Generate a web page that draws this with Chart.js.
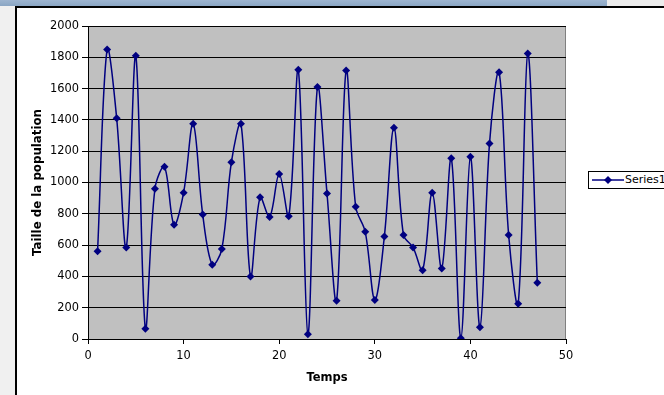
<!DOCTYPE html>
<html>
<head>
<meta charset="utf-8">
<script src="https://cdn.jsdelivr.net/npm/chart.js@4"></script>
<style>
  body { margin: 0; width: 664px; height: 395px; overflow: hidden; background: #f0f0f0; position: relative; font-family: "DejaVu Sans", Verdana, sans-serif; }
  #band { position: absolute; left: 0; top: 0; width: 607px; height: 6px; background: linear-gradient(#9db4cf, #8aa6c4); }
  #band2 { position: absolute; left: 607px; top: 0; width: 57px; height: 6px; background: #ececec; }
  #box { position: absolute; left: 15px; top: 6px; width: 649px; height: 389px; background: #fff; border-left: 2px solid #000; border-top: 2px solid #000; box-sizing: border-box; }
  #wrap { position: absolute; left: 17px; top: 8px; width: 647px; height: 387px; }
  #legend { position: absolute; left: 588px; top: 171px; width: 90px; height: 16px; border: 1px solid #000; background: #fff; font-size: 11px; line-height: 16px; white-space: nowrap; }
  #legend svg { position: absolute; left: 3px; top: 2px; }
  #legend span { position: absolute; left: 36px; top: 0; }
</style>
</head>
<body>
<div id="band"></div>
<div id="band2"></div>
<div id="box"></div>
<div id="wrap"><canvas id="chart" width="647" height="387"></canvas></div>
<div id="legend">
  <svg width="32" height="12"><line x1="0" y1="6" x2="32" y2="6" stroke="#000080" stroke-width="1.5"/><polygon points="16,2 20,6 16,10 12,6" fill="#000080"/></svg>
  <span>Series1</span>
</div>
<script>
// Temps (x) and taille de la population (y)
const temps = [1,2,3,4,5,6,7,8,9,10,11,12,13,14,15,16,17,18,19,20,21,22,23,24,25,26,27,28,29,30,31,32,33,34,35,36,37,38,39,40,41,42,43,44,45,46,47];
const taille = [560,1850,1410,585,1810,65,960,1100,730,935,1375,795,475,575,1130,1375,400,905,780,1055,785,1720,30,1610,930,245,1715,845,685,250,655,1350,665,585,440,935,450,1155,5,1165,75,1250,1705,665,225,1825,360];
const xTicks = [0,10,20,30,40,50];
const yTicks = [0,200,400,600,800,1000,1200,1400,1600,1800,2000];

const points = temps.map((t, i) => ({ x: t, y: taille[i] }));

const plotBg = {
  id: 'plotBg',
  beforeDraw(chart) {
    const a = chart.chartArea, c = chart.ctx;
    c.save();
    c.fillStyle = '#c0c0c0';
    c.fillRect(a.left, a.top, a.right - a.left, a.bottom - a.top);
    c.strokeStyle = '#808080';
    c.lineWidth = 1;
    c.beginPath();
    c.moveTo(a.left, a.top + 0.5);
    c.lineTo(a.right - 0.5, a.top + 0.5);
    c.lineTo(a.right - 0.5, a.bottom);
    c.stroke();
    c.restore();
  }
};

new Chart(document.getElementById('chart'), {
  type: 'line',
  data: {
    datasets: [{
      label: 'Series1',
      data: points,
      borderColor: '#000080',
      backgroundColor: '#000080',
      borderWidth: 1.5,
      tension: 0.35,
      pointStyle: 'rectRot',
      pointRadius: 4,
      pointBorderWidth: 0
    }]
  },
  options: {
    responsive: false,
    animation: false,
    layout: { padding: { top: 18, right: 98, left: 0, bottom: 0 } },
    plugins: { legend: { display: false }, tooltip: { enabled: false } },
    scales: {
      x: {
        type: 'linear',
        min: 0, max: 50,
        afterBuildTicks: s => { s.ticks = xTicks.map(v => ({ value: v })); },
        afterFit: s => { s.height = 56; },
        ticks: { color: '#000', font: { family: 'DejaVu Sans', size: 11.4 }, padding: 5, maxRotation: 0, callback: v => String(v) },
        grid: { drawOnChartArea: false, color: '#000', tickLength: 5 },
        border: { color: '#000', width: 1 },
        title: { display: true, text: 'Temps', color: '#000', font: { family: 'DejaVu Sans', size: 11.5, weight: 'bold' }, padding: { top: 0, bottom: 10 } }
      },
      y: {
        min: 0, max: 2000,
        afterBuildTicks: s => { s.ticks = yTicks.map(v => ({ value: v })); },
        afterFit: s => { s.width = 71; },
        ticks: { color: '#000', font: { family: 'DejaVu Sans', size: 11.4 }, padding: 3, callback: v => String(v) },
        grid: { color: '#000', tickLength: 6 },
        border: { color: '#000', width: 1 },
        title: { display: true, text: 'Taille de la population', color: '#000', font: { family: 'DejaVu Sans', size: 11.8, weight: 'bold' }, padding: { top: 14, bottom: 0 } }
      }
    }
  },
  plugins: [plotBg]
});
</script>
</body>
</html>
